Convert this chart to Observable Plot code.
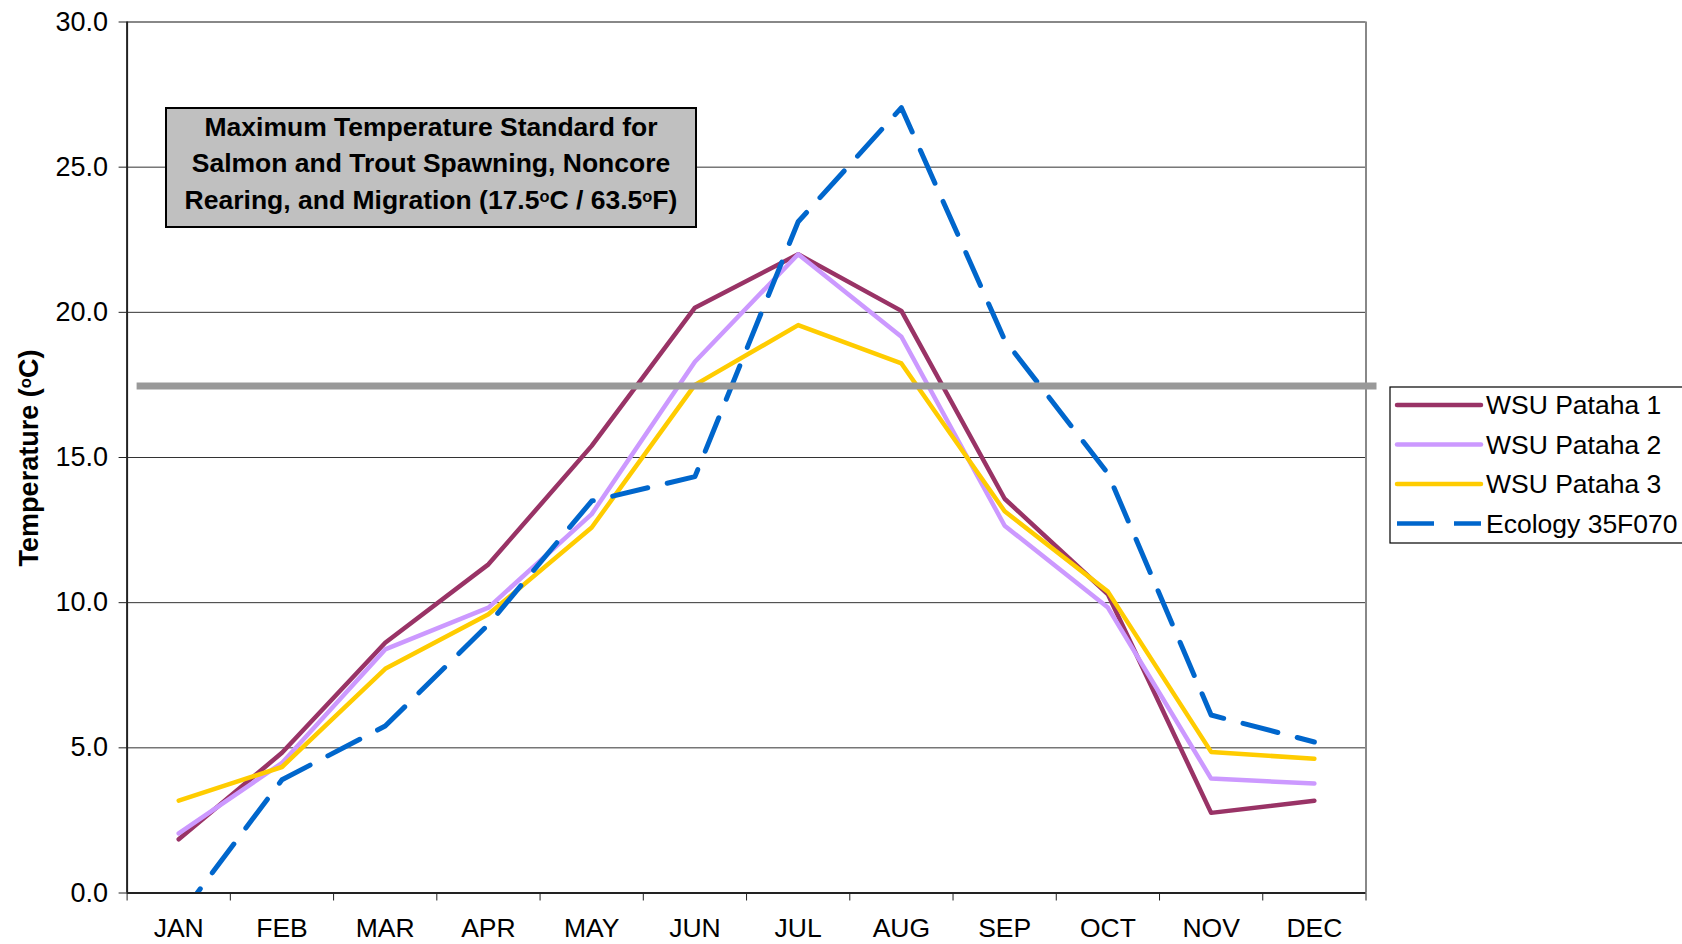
<!DOCTYPE html>
<html>
<head>
<meta charset="utf-8">
<script src="https://cdn.jsdelivr.net/npm/d3@7"></script>
<script src="https://cdn.jsdelivr.net/npm/@observablehq/plot@0.6"></script>
<style>
  html, body { margin: 0; padding: 0; background: #fff; overflow: hidden; }
  #chart svg { display: block; }
</style>
</head>
<body>
<div id="chart"></div>
<script>
const months = ["JAN","FEB","MAR","APR","MAY","JUN","JUL","AUG","SEP","OCT","NOV","DEC"];
const pataha1 = [1.85, 4.83, 8.62, 11.32, 15.4, 20.16, 22.0, 20.05, 13.58, 10.29, 2.76, 3.18];
const pataha2 = [2.05, 4.48, 8.39, 9.83, 13.05, 18.3, 22.0, 19.16, 12.65, 9.83, 3.94, 3.77];
const pataha3 = [3.18, 4.34, 7.72, 9.6, 12.59, 17.5, 19.56, 18.24, 13.15, 10.38, 4.86, 4.62];
const ecology = [-0.85, 3.9, 5.75, 9.25, 13.5, 14.34, 23.12, 27.05, 19.05, 14.45, 6.13, 5.2];
const seriesNames = ["WSU Pataha 1", "WSU Pataha 2", "WSU Pataha 3", "Ecology 35F070"];
const seriesValues = [pataha1, pataha2, pataha3, ecology];
const seriesColors = ["#993366", "#CC99FF", "#FFCC00", "#0066CC"];
const yTicks = [0, 5, 10, 15, 20, 25, 30];
const threshold = 17.5;
// text pieces: [text, superscript?]
const yTitle = [["Temperature (", false], ["o", true], ["C)", false]];
const boxLines = [
  [["Maximum Temperature Standard for", false]],
  [["Salmon and Trout Spawning, Noncore", false]],
  [["Rearing, and Migration (17.5", false], ["o", true], ["C / 63.5", false], ["o", true], ["F)", false]]
];

const rows = [];
seriesNames.forEach((s, k) => seriesValues[k].forEach((v, i) => rows.push({series: s, i, month: months[i], value: v})));
const solid = rows.filter(d => d.series !== "Ecology 35F070");
const dashed = rows.filter(d => d.series === "Ecology 35F070");
const boundaries = d3.range(-0.5, 12, 1);
const font = "'Liberation Sans', Arial, sans-serif";

const chart = Plot.plot({
  width: 1682,
  height: 944,
  marginLeft: 126.6,
  marginRight: 316.5,
  marginTop: 21.5,
  marginBottom: 51.5,
  style: {fontFamily: font, fontSize: "26px", color: "#000", background: "#fff"},
  x: {type: "linear", domain: [-0.5, 11.5]},
  y: {domain: [0, 30]},
  color: {domain: seriesNames, range: seriesColors},
  marks: [
    Plot.gridY([5, 10, 15, 20, 25], {stroke: "#333", strokeOpacity: 1, strokeWidth: 1}),
    Plot.ruleY([30], {stroke: "#888", strokeWidth: 2}),
    Plot.ruleX([11.5], {stroke: "#888", strokeWidth: 2}),
    Plot.axisY(yTicks, {tickFormat: d3.format(".1f"), tickSize: 8, tickPadding: 11, fontSize: 27, label: null, stroke: "#222"}),
    Plot.axisX(boundaries, {tickSize: 8, tickFormat: () => "", label: null, stroke: "#222"}),
    Plot.axisX(d3.range(12), {tickSize: 0, tickPadding: 25, tickFormat: i => months[i], fontSize: 26.5, label: null}),
    Plot.line(solid, {x: "i", y: "value", z: "series", stroke: "series", strokeWidth: 4.5, strokeLinejoin: "round", strokeLinecap: "round"}),
    Plot.line(dashed, {x: "i", y: "value", stroke: "series", strokeWidth: 5, strokeDasharray: "36,20", clip: true}),
    Plot.ruleX([-0.5], {stroke: "#222", strokeWidth: 2}),
    Plot.ruleY([0], {stroke: "#222", strokeWidth: 2})
  ]
});

document.getElementById("chart").appendChild(chart);

const svg = d3.select(chart);
const xs = chart.scale("x");
const ys = chart.scale("y");
const xL = xs.apply(-0.5), xR = xs.apply(11.5);

function richText(sel, pieces, size) {
  pieces.forEach(([t, sup]) => {
    const ts = sel.append("tspan").text(t);
    if (sup) ts.attr("font-size", size * 0.62).attr("baseline-shift", "42%");
  });
}

// Y-axis title
const yt = svg.append("text")
  .attr("transform", `translate(38, ${(ys.apply(0) + ys.apply(30)) / 2 + 1}) rotate(-90)`)
  .attr("text-anchor", "middle").attr("font-family", font).attr("font-weight", "bold")
  .attr("font-size", 27).attr("fill", "#000");
richText(yt, yTitle, 27);

// Threshold line
svg.append("line")
  .attr("x1", xL + 10).attr("x2", xR + 11)
  .attr("y1", ys.apply(threshold) + 1.5).attr("y2", ys.apply(threshold) + 1.5)
  .attr("stroke", "#999999").attr("stroke-width", 7);

// Annotation box
const bx = 166, by = 108, bw = 530, bh = 119;
const g = svg.append("g");
g.append("rect").attr("x", bx).attr("y", by).attr("width", bw).attr("height", bh)
  .attr("fill", "#C0C0C0").attr("stroke", "#000").attr("stroke-width", 2);
const baseYs = [136, 172, 209];
boxLines.forEach((pieces, k) => {
  const t = g.append("text").attr("x", bx + bw / 2).attr("y", baseYs[k])
    .attr("text-anchor", "middle").attr("font-family", font).attr("font-weight", "bold")
    .attr("font-size", 26.5).attr("fill", "#000");
  richText(t, pieces, 26.5);
});

// Legend
const lg = svg.append("g");
lg.append("rect").attr("x", 1390).attr("y", 387).attr("width", 320).attr("height", 156)
  .attr("fill", "#fff").attr("stroke", "#000").attr("stroke-width", 1.2);
const entryYs = [405, 444.5, 484, 523.5];
seriesNames.forEach((s, k) => {
  const ln = lg.append("line").attr("x1", 1397).attr("x2", 1481)
    .attr("y1", entryYs[k]).attr("y2", entryYs[k])
    .attr("stroke", seriesColors[k]).attr("stroke-width", 4.5);
  if (k === 3) ln.attr("stroke-dasharray", "37,20");
  else ln.attr("stroke-linecap", "round");
  lg.append("text").attr("x", 1486).attr("y", entryYs[k]).attr("dy", "0.35em")
    .attr("text-anchor", "start")
    .attr("font-family", font).attr("font-size", 26.5).attr("fill", "#000").text(s);
});
</script>
</body>
</html>
